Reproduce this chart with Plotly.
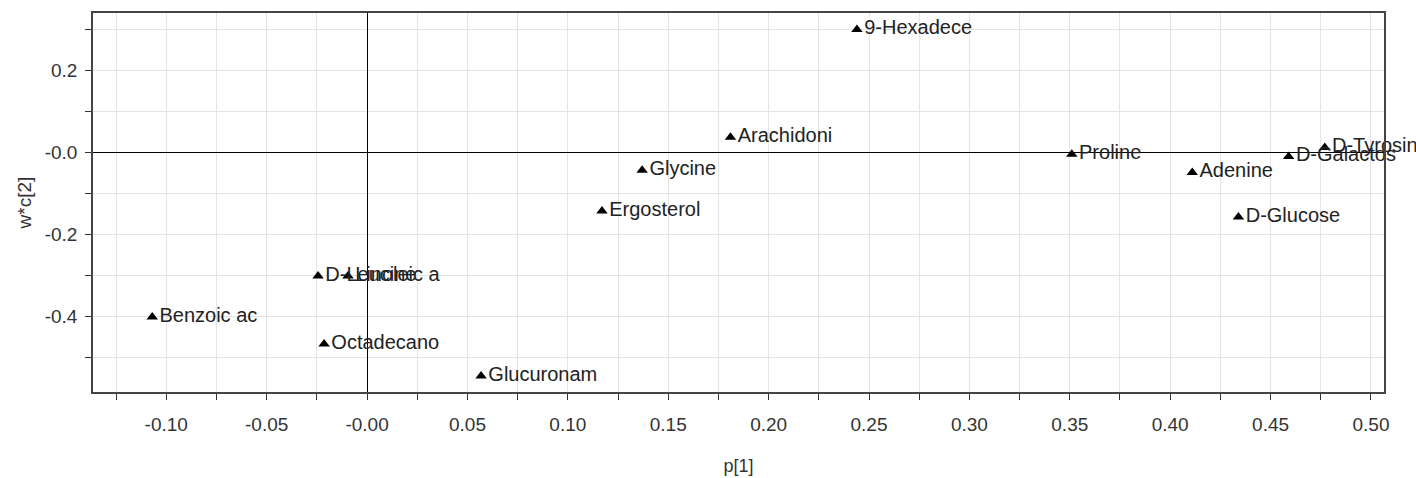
import plotly.graph_objects as go

names = ["9-Hexadece", "Arachidoni", "Glycine", "Ergosterol", "Proline", "Adenine",
         "D-Galactos", "D-Tyrosine", "D-Glucose", "D-Leucine", "Linoleic a",
         "Benzoic ac", "Octadecano", "Glucuronam"]
p1 = [0.244, 0.181, 0.137, 0.117, 0.351, 0.411, 0.459, 0.477, 0.434, -0.0244, -0.0095,
      -0.107, -0.0214, 0.0568]
wc2 = [0.300, 0.037, -0.044, -0.143, -0.005, -0.049, -0.010, 0.012, -0.158, -0.302, -0.302,
       -0.402, -0.468, -0.546]

x_tickvals = [-0.10, -0.05, 0.0, 0.05, 0.10, 0.15, 0.20, 0.25, 0.30, 0.35, 0.40, 0.45, 0.50]
x_ticktext = ["-0.10", "-0.05", "-0.00", "0.05", "0.10", "0.15", "0.20", "0.25", "0.30",
              "0.35", "0.40", "0.45", "0.50"]
y_tickvals = [0.2, 0.0, -0.2, -0.4]
y_ticktext = ["0.2", "-0.0", "-0.2", "-0.4"]

FONT = "Liberation Sans, Arial, sans-serif"

fig = go.Figure()
fig.add_trace(go.Scatter(
    x=p1, y=wc2, mode="markers+text", text=names, textposition="middle right",
    marker=dict(symbol="triangle-up", size=10, color="black"),
    textfont=dict(family=FONT, size=20, color="#222222"),
    cliponaxis=False, showlegend=False, hoverinfo="x+y+text",
))

fig.update_layout(
    width=1416, height=478,
    margin=dict(l=93, r=32, t=13, b=86, autoexpand=False),
    paper_bgcolor="white", plot_bgcolor="white",
    font=dict(family=FONT, size=19, color="#333333"),
    xaxis=dict(
        range=[-0.1365, 0.5065], tickmode="array", tickvals=x_tickvals, ticktext=x_ticktext,
        ticks="outside", ticklen=6, tickcolor="#333333", tickwidth=1,
        showgrid=True, gridcolor="#e4e4e4", gridwidth=1,
        minor=dict(dtick=0.025, tick0=0, ticks="outside", ticklen=6, tickcolor="#333333",
                   showgrid=True, gridcolor="#e4e4e4"),
        zeroline=True, zerolinecolor="black", zerolinewidth=1,
        showline=True, linecolor="#444444", linewidth=1.5, mirror=True,
        title=dict(text="p[1]", font=dict(size=18, color="#333333"), standoff=26),
        ticklabelstandoff=8, automargin=False,
    ),
    yaxis=dict(
        range=[-0.585, 0.340], tickmode="array", tickvals=y_tickvals, ticktext=y_ticktext,
        ticks="outside", ticklen=6, tickcolor="#333333", tickwidth=1,
        showgrid=True, gridcolor="#e4e4e4", gridwidth=1,
        minor=dict(dtick=0.1, tick0=0, ticks="outside", ticklen=6, tickcolor="#333333",
                   showgrid=True, gridcolor="#e4e4e4"),
        zeroline=True, zerolinecolor="black", zerolinewidth=1,
        showline=True, linecolor="#444444", linewidth=1.5, mirror=True,
        title=dict(text="w*c[2]", font=dict(size=19, color="#333333"), standoff=8),
        ticklabelstandoff=4, automargin=False,
    ),
)

fig.write_html("out.html")
